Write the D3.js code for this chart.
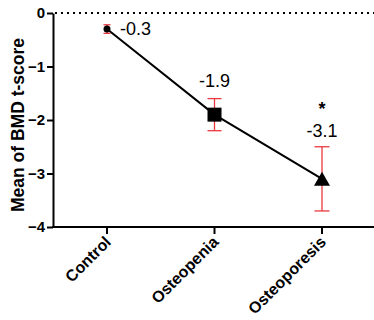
<!DOCTYPE html>
<html><head><meta charset="utf-8">
<script src="https://cdn.jsdelivr.net/npm/d3@7"></script>
<style>body{margin:0;background:#fff}svg{display:block}</style>
</head><body>
<script>
const categories = ["Control", "Osteopenia", "Osteoporesis"];
const means = [-0.3, -1.9, -3.1];
const errors = [0.08, 0.3, 0.6];
const valueLabels = ["-0.3", "-1.9", "-3.1"];
const markers = ["circle", "square", "triangle"];
const significance = ["", "", "*"];
const yTicks = [0, -1, -2, -3, -4];

const W = 374, H = 320;
const svg = d3.select("body").append("svg").attr("width", W).attr("height", H);

const y = d3.scaleLinear().domain([0, -4]).range([13, 227]);
const x = d3.scalePoint().domain(categories).range([107, 322]);
const red = "#e8383d";
const font = "Liberation Sans, Arial, sans-serif";

// dotted zero line
svg.append("line").attr("x1", 55).attr("x2", W).attr("y1", y(0)).attr("y2", y(0))
  .attr("stroke", "#000").attr("stroke-width", 2).attr("stroke-dasharray", "2,4");

// y axis
const yAxis = svg.append("g").attr("transform", "translate(53,0)")
  .call(d3.axisLeft(y).tickValues(yTicks).tickFormat(d3.format("d")).tickSize(6).tickSizeOuter(0));
yAxis.select(".domain").attr("stroke-width", 2);
yAxis.selectAll(".tick line").attr("stroke-width", 2);
yAxis.selectAll("text").attr("font-family", font).attr("font-size", 15).attr("font-weight", "bold").attr("dx", "1px");

// x axis
const xAxis = svg.append("g").attr("transform", `translate(0,${y(-4)})`);
xAxis.append("line").attr("x1", 52).attr("x2", W).attr("stroke", "#000").attr("stroke-width", 2);
xAxis.selectAll("line.tk").data(categories).join("line").attr("class", "tk")
  .attr("x1", d => x(d)).attr("x2", d => x(d)).attr("y1", 0).attr("y2", 7)
  .attr("stroke", "#000").attr("stroke-width", 2);
xAxis.selectAll("text").data(categories).join("text")
  .attr("transform", d => `translate(${x(d) + 5},${16}) rotate(-45)`)
  .attr("text-anchor", "end").attr("font-family", font).attr("font-size", 16)
  .attr("font-weight", "bold").text(d => d);

// y title
svg.append("text").attr("transform", `translate(24,125) rotate(-90)`)
  .attr("text-anchor", "middle").attr("font-family", font).attr("font-size", 17.5)
  .attr("font-weight", "bold").text("Mean of BMD t-score");

// line
svg.append("path").datum(categories.map((c, i) => [x(c), y(means[i])]))
  .attr("d", d3.line()).attr("fill", "none").attr("stroke", "#000").attr("stroke-width", 2);

// error bars
const capW = [7, 14, 15];
categories.forEach((c, i) => {
  const g = svg.append("g").attr("stroke", red).attr("stroke-width", 1.3);
  const cx = x(c), top = y(means[i] + errors[i]), bot = y(means[i] - errors[i]);
  g.append("line").attr("x1", cx).attr("x2", cx).attr("y1", top).attr("y2", bot);
  g.append("line").attr("x1", cx - capW[i] / 2).attr("x2", cx + capW[i] / 2).attr("y1", top).attr("y2", top);
  g.append("line").attr("x1", cx - capW[i] / 2).attr("x2", cx + capW[i] / 2).attr("y1", bot).attr("y2", bot);
});

// markers
categories.forEach((c, i) => {
  const cx = x(c), cy = y(means[i]);
  if (markers[i] === "circle") {
    svg.append("circle").attr("cx", cx).attr("cy", cy).attr("r", 3.5).attr("fill", "#000");
  } else if (markers[i] === "square") {
    svg.append("rect").attr("x", cx - 7).attr("y", cy - 7).attr("width", 14).attr("height", 14).attr("fill", "#000");
  } else {
    svg.append("path").attr("d", `M${cx},${cy - 7}L${cx + 8},${cy + 7}L${cx - 8},${cy + 7}Z`).attr("fill", "#000");
  }
});

// value labels
svg.append("text").attr("x", x(categories[0]) + 13).attr("y", y(means[0]) + 6)
  .attr("font-family", font).attr("font-size", 18).text(valueLabels[0]);
[1, 2].forEach(i => {
  svg.append("text").attr("x", x(categories[i])).attr("y", i === 1 ? 87 : 137)
    .attr("text-anchor", "middle").attr("font-family", font).attr("font-size", 18).text(valueLabels[i]);
});
svg.append("text").attr("x", x(categories[2])).attr("y", 115)
  .attr("text-anchor", "middle").attr("font-family", font).attr("font-size", 18)
  .attr("font-weight", "bold").text(significance[2]);
</script>
</body></html>
